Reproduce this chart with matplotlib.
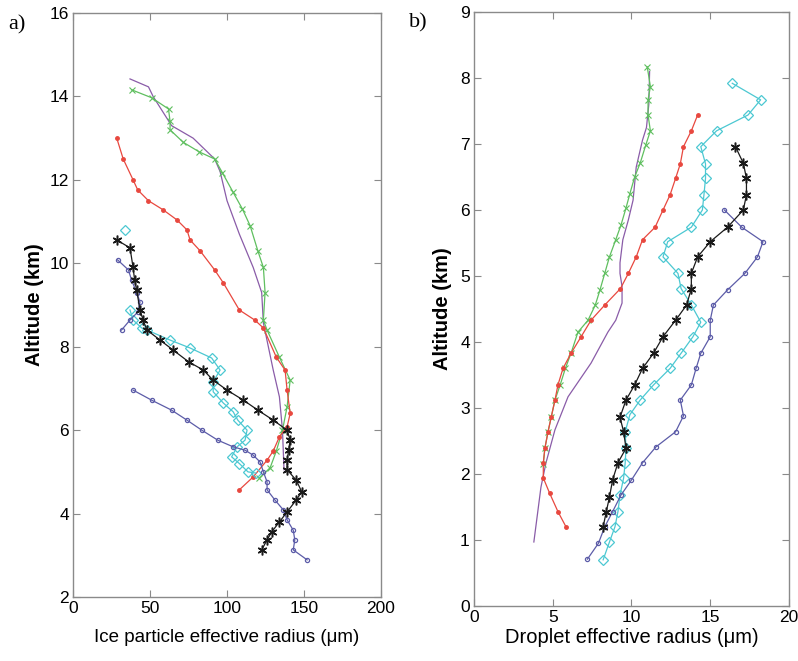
import matplotlib.pyplot as plt
import numpy as np

# panel a: ice particle effective radius (um) vs altitude (km)
a_purple_r = [37, 49, 52, 64, 78, 92, 95.5, 100, 108, 117, 122.5, 123.6, 130, 134, 136, 137]
a_purple_z = [14.42, 14.23, 14.0, 13.3, 13.0, 12.5, 12.2, 11.5, 10.7, 9.9, 9.3, 8.57, 7.44, 6.8, 6.0, 5.05]

a_green_r = [38, 51, 62, 63, 63, 71.6, 82, 92, 97, 104, 110, 115, 120, 123.6, 124.7, 123.6,
             126, 134, 141, 139, 136, 132, 128, 121]
a_green_z = [14.16, 13.97, 13.7, 13.4, 13.2, 12.9, 12.67, 12.5, 12.17, 11.7, 11.3, 10.9, 10.3, 9.9, 9.3, 8.64,
             8.4, 7.75, 7.2, 6.56, 6.0, 5.5, 5.1, 4.85]

a_red_r = [28.4, 32.6, 39, 42, 49, 58.6, 67.5, 74, 76, 82.5, 92, 97.6, 108, 118, 123.6,
           132, 137.7, 139, 141, 139, 134, 130, 126, 117, 108]
a_red_z = [13.0, 12.5, 12.0, 11.76, 11.5, 11.28, 11.04, 10.8, 10.56, 10.3, 9.84, 9.53, 8.88, 8.64, 8.45,
           7.75, 7.44, 6.96, 6.4, 6.08, 5.84, 5.5, 5.28, 4.88, 4.57]

a_black_r = [28.4, 37, 39, 40, 41.3, 43.5, 45.5, 48, 56.5, 65, 75, 84.6, 91, 100, 110.6, 120, 130,
             139, 141, 140, 139, 139, 145, 148.5, 145, 139, 134, 129, 126, 122.5]
a_black_z = [10.56, 10.37, 9.9, 9.6, 9.36, 8.88, 8.64, 8.4, 8.16, 7.92, 7.64, 7.44, 7.2, 6.96, 6.72, 6.48, 6.24,
             6.0, 5.76, 5.52, 5.28, 5.05, 4.8, 4.52, 4.33, 4.04, 3.8, 3.56, 3.37, 3.13]

a_cyan_r = [33.8, np.nan, 37, 39, 44.6, 48, 63, 76, 90, 95.5, 91, 91, 97.6, 104, 107, 113, 111.7,
            106.5, 103, 108, 113.6, 119]
a_cyan_z = [10.8, np.nan, 8.88, 8.64, 8.45, 8.4, 8.16, 7.97, 7.73, 7.44, 7.16, 6.92, 6.65, 6.44, 6.24, 6.0, 5.76,
            5.6, 5.36, 5.2, 5.0, 4.97]

a_navy1_r = [29, 36, 38, 41.3, 43.5, 42, 37, 31.5]
a_navy1_z = [10.08, 9.84, 9.6, 9.3, 9.07, 8.83, 8.64, 8.4]

a_navy2_r = [39, 51, 64, 74, 83.6, 94, 104, 111.7, 117, 121.4, 123.6, 126, 126, 131, 136.5, 139,
             143, 144, 143, 152]
a_navy2_z = [6.96, 6.72, 6.48, 6.24, 6.0, 5.76, 5.6, 5.52, 5.4, 5.24, 5.0, 4.76, 4.57, 4.33, 4.09, 3.85,
             3.6, 3.37, 3.13, 2.89]

# panel b: droplet effective radius (um) vs altitude (km)
b_green_r = [11.0, 11.2, 11.05, 11.05, 11.2, 10.9, 10.55, 10.2, 9.9, 9.65, 9.33, 9.0, 8.6, 8.3, 8.0,
             7.7, 7.24, 6.6, 6.16, 5.8, 5.47, 5.14, 4.9, 4.7, 4.5, 4.4]
b_green_z = [8.17, 7.87, 7.67, 7.44, 7.2, 6.98, 6.71, 6.5, 6.25, 6.03, 5.77, 5.55, 5.29, 5.04, 4.79,
             4.56, 4.33, 4.15, 3.83, 3.6, 3.35, 3.12, 2.86, 2.64, 2.39, 2.15]

b_purple_r = [11.15, 11.1, 10.95, 10.7, 10.3, 10.1, 9.8, 9.45, 9.27, 9.27, 9.4, 9.4, 9.0, 8.5, 7.43,
              5.97, 5.14, 4.57, 4.25, 3.8]
b_purple_z = [8.1, 7.6, 7.25, 7.06, 6.65, 6.15, 5.85, 5.55, 5.2, 5.04, 4.84, 4.59, 4.33, 4.15, 3.68,
              3.17, 2.67, 2.17, 1.8, 0.97]

b_red_r = [14.2, 13.8, 13.3, 13.1, 12.8, 12.45, 12.0, 11.5, 10.7, 10.3, 9.8, 9.3, 8.3, 7.43, 6.8,
           6.16, 5.65, 5.33, 5.14, 4.9, 4.7, 4.5, 4.4, 4.4, 4.8, 5.33, 5.84]
b_red_z = [7.44, 7.2, 6.96, 6.7, 6.48, 6.23, 6.0, 5.74, 5.55, 5.29, 5.04, 4.81, 4.56, 4.33, 4.08,
           3.83, 3.6, 3.35, 3.12, 2.86, 2.64, 2.39, 2.17, 1.94, 1.71, 1.43, 1.2]

b_cyan_r = [16.4, 18.2, 17.4, 15.4, 14.4, 14.7, 14.7, 14.6, 14.5, 13.8, 12.3, 12.0, 12.95, 13.15, 13.8,
            14.4, 13.9, 13.15, 12.45, 11.4, 10.55, 9.9, 9.6, 9.65, 9.6, 9.5, 9.27, 9.14, 8.95, 8.6, 8.2]
b_cyan_z = [7.92, 7.67, 7.44, 7.2, 6.96, 6.7, 6.48, 6.23, 6.0, 5.74, 5.52, 5.29, 5.04, 4.81, 4.56,
            4.3, 4.08, 3.83, 3.6, 3.35, 3.12, 2.9, 2.64, 2.39, 2.17, 1.94, 1.68, 1.43, 1.2, 0.97, 0.7]

b_black_r = [16.6, 17.1, 17.3, 17.3, 17.1, 16.1, 15.0, 14.2, 13.8, 13.8, 13.5, 12.8, 12.0, 11.4, 10.7,
             10.2, 9.65, 9.27, 9.5, 9.65, 9.14, 8.8, 8.6, 8.4, 8.2]
b_black_z = [6.96, 6.71, 6.48, 6.23, 6.0, 5.74, 5.52, 5.29, 5.04, 4.81, 4.56, 4.33, 4.08, 3.83, 3.6,
             3.35, 3.12, 2.86, 2.64, 2.39, 2.17, 1.91, 1.65, 1.43, 1.2]

b_navy_r = [15.9, 17.0, 18.35, 18.0, 17.2, 16.1, 15.2, 15.0, 15.0, 14.4, 14.1, 13.8, 13.1, 13.3, 12.8,
            11.55, 10.7, 10.0, 9.33, 8.8, 8.3, 7.9, 7.2]
b_navy_z = [6.0, 5.74, 5.52, 5.29, 5.04, 4.79, 4.56, 4.33, 4.08, 3.83, 3.6, 3.35, 3.12, 2.88, 2.64,
            2.41, 2.17, 1.91, 1.68, 1.43, 1.2, 0.95, 0.71]

green = '#5fbf5f'
red = '#e8483f'
purple = '#8a5ca8'
cyan = '#4cc8d2'
navy = '#5c5ca8'
black = '#1a1a1a'
frame = '#8a8a8a'
asterisk = (6, 2, 0)

plt.rcParams['font.family'] = ['Liberation Sans', 'DejaVu Sans']

fig = plt.figure(figsize=(7.98, 6.61), dpi=100)
ax1 = fig.add_axes([0.0915, 0.0968, 0.386, 0.8835])
ax2 = fig.add_axes([0.594, 0.0832, 0.3947, 0.8986])

lw = 0.9

def style(ax):
    for s in ax.spines.values():
        s.set_color(frame)
        s.set_linewidth(1.0)
    ax.tick_params(direction='in', top=True, right=True, length=5, width=0.8,
                   color=frame, labelsize=12.5, pad=3)

# panel a
ax1.plot(a_purple_r, a_purple_z, '-', color=purple, lw=lw)
ax1.plot(a_green_r, a_green_z, '-x', color=green, lw=lw, ms=4, mew=0.8)
ax1.plot(a_red_r, a_red_z, '-o', color=red, lw=lw, ms=2.5)
ax1.plot(a_cyan_r, a_cyan_z, '-D', color=cyan, lw=lw, ms=5, mfc='none', mew=0.9)
ax1.plot(a_navy1_r, a_navy1_z, '-o', color=navy, lw=lw, ms=3, mfc='none', mew=0.9)
ax1.plot(a_navy2_r, a_navy2_z, '-o', color=navy, lw=lw, ms=3, mfc='none', mew=0.9)
ax1.plot(a_black_r, a_black_z, '-', marker=asterisk, color=black, lw=lw, ms=7, mew=1.1)
ax1.set_xlim(0, 200)
ax1.set_ylim(2, 16)
ax1.set_xticks([0, 50, 100, 150, 200])
ax1.set_yticks([2, 4, 6, 8, 10, 12, 14, 16])
style(ax1)
ax1.set_xlabel('Ice particle effective radius (μm)', fontsize=13.5, labelpad=9)
ax1.set_ylabel('Altitude (km)', fontsize=14.5, fontweight='bold', labelpad=4)

# panel b
ax2.plot(b_purple_r, b_purple_z, '-', color=purple, lw=lw)
ax2.plot(b_green_r, b_green_z, '-x', color=green, lw=lw, ms=4, mew=0.8)
ax2.plot(b_red_r, b_red_z, '-o', color=red, lw=lw, ms=2.5)
ax2.plot(b_cyan_r, b_cyan_z, '-D', color=cyan, lw=lw, ms=5, mfc='none', mew=0.9)
ax2.plot(b_navy_r, b_navy_z, '-o', color=navy, lw=lw, ms=3, mfc='none', mew=0.9)
ax2.plot(b_black_r, b_black_z, '-', marker=asterisk, color=black, lw=lw, ms=7, mew=1.1)
ax2.set_xlim(0, 20)
ax2.set_ylim(0, 9)
ax2.set_xticks([0, 5, 10, 15, 20])
ax2.set_yticks(range(10))
style(ax2)
ax2.set_xlabel('Droplet effective radius (μm)', fontsize=14.5, labelpad=2)
ax2.set_ylabel('Altitude (km)', fontsize=14.5, fontweight='bold', labelpad=6)

fig.text(0.010, 0.962, 'a)', fontsize=16, family='Liberation Serif', va='center')
fig.text(0.513, 0.966, 'b)', fontsize=16, family='Liberation Serif', va='center')

fig.savefig('out.png', dpi=100)
